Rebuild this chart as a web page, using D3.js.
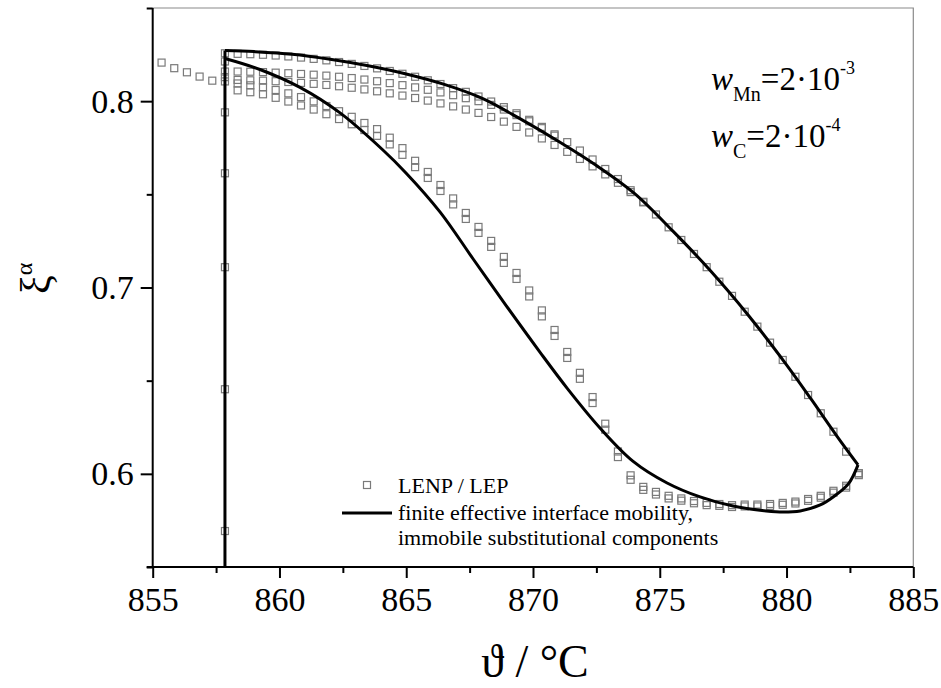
<!DOCTYPE html>
<html>
<head>
<meta charset="utf-8">
<script src="https://cdn.jsdelivr.net/npm/d3@7"></script>
<style>
  body { margin: 0; background: #fff; }
  text { font-family: "Liberation Serif", "DejaVu Serif", serif; fill: #000; }
</style>
</head>
<body>
<svg id="chart"></svg>
<script>
// temperatures of the LENP / LEP points (°C), one every 0.5 K
var gridT = [858.35, 858.85, 859.35, 859.85, 860.35, 860.85, 861.35, 861.85, 862.35, 862.85,
             863.35, 863.85, 864.35, 864.85, 865.35, 865.85, 866.35, 866.85, 867.35, 867.85,
             868.35, 868.85, 869.35, 869.85, 870.35, 870.85, 871.35, 871.85, 872.35, 872.85,
             873.35, 873.85, 874.35, 874.85, 875.35, 875.85, 876.35, 876.85, 877.35, 877.85,
             878.35, 878.85, 879.35, 879.85, 880.35, 880.85, 881.35, 881.85, 882.35, 882.85];

// ferrite fraction of the LENP / LEP rows (same order as gridT)
var rowA = [.8254, .8252, .8249, .8245, .8240, .8234, .8227, .8219, .8210, .8200,
            .8189, .8176, .8162, .8147, .8131, .8112, .8092, .8070, .8050, .8025,
            .7998, .7968, .7935, .7900, .7862, .7822, .7780, .7735, .7687, .7636,
            .7582, .7522, .7460, .7392, .7323, .7255, .7180, .7109, .7031, .6955,
            .6870, .6790, .6704, .6611, .6521, .6423, .6325, .6226, .6119, .6003];
var rowB = [.8159, .8158, .8156, .8153, .8150, .8146, .8142, .8137, .8131, .8124,
            .8116, .8107, .8097, .8086, .8074, .8061, .8047, .8032, .8016, .8000,
            .7980, .7955, .7925, .7892, .7855, .7815];
var rowC = [.8114, .8112, .8110, .8107, .8103, .8098, .8093, .8087, .8080, .8072,
            .8063, .8053, .8042, .8030, .8017, .8003, .7988, .7972, .7955, .7937,
            .7915, .7890, .7862, .7832, .7800, .7765, .7728, .7690, .7650, .7607,
            .7562, .7512, .7457];
var rowD1 = [.8095, .8085, .8075, .8060, .8042, .8022, .7999, .7974, .7946, .7916,
             .7883, .7850, .7804, .7748, .7680, .7620, .7550, .7478, .7400, .7325,
             .7250, .7164, .7078, .6984, .6877, .6772, .6654, .6542, .6412, .6269,
             .6120, .5992, .5930, .5903, .5882, .5868, .5854, .5844, .5838, .5832,
             .5835, .5835, .5838, .5844, .5851, .5865, .5882, .5909, .5936, .6003];
var rowD2 = [.8058, .8048, .8037, .8018, .7998, .7977, .7955, .7930, .7904, .7876,
             .7845, .7814, .7768, .7712, .7646, .7588, .7518, .7446, .7368, .7293,
             .7218, .7132, .7046, .6952, .6845, .6740, .6622, .6510, .6380, .6237,
             .6090, .5968, .5914, .5889, .5868, .5856, .5842, .5832, .5828, .5822,
             .5825, .5825, .5828, .5834, .5841, .5855, .5872, .5899, .5926, .5993];

// points below the transformation start
var leftT  = [855.35, 855.85, 856.35, 856.85, 857.35];
var leftXi = [.8207, .8177, .8155, .8132, .8110];
// isothermal points at the start temperature
var holdT  = 857.85;
var holdXi = [.8257, .8213, .8159, .8129, .8106, .7940, .7613, .7109, .6454, .5693];

// model: finite effective interface mobility
var modelStartT = 857.85;
var upperT  = [857.85, 859.0, 860.5, 862.0, 863.5, 865.0, 866.5, 868.0, 869.5, 871.0,
               872.5, 874.0, 875.5, 877.0, 878.5, 880.0, 881.0, 882.0, 882.82];
var upperXi = [.8272, .8266, .8252, .8225, .8190, .8146, .8090, .8015, .7905, .7785,
               .7655, .7505, .7305, .7090, .6850, .6585, .6395, .6200, .6048];
var lowerT  = [882.82, 882.44, 881.84, 881.33, 880.54, 879.87, 879.20, 877.89, 876.59, 875.29,
               873.95, 872.65, 871.35, 870.28, 868.94, 867.64, 866.33, 864.99, 864.08, 862.39,
               860.81, 859.23, 857.85];
var lowerXi = [.6048, .5946, .5876, .5833, .5801, .5795, .5801, .5827, .5876, .5951,
               .6067, .6245, .6459, .6652, .6903, .7153, .7406, .7615, .7738, .7937,
               .8074, .8170, .8229];

var xMajor = [855, 860, 865, 870, 875, 880, 885];
var xMinor = [857.5, 862.5, 867.5, 872.5, 877.5, 882.5];
var yMajor = [0.6, 0.7, 0.8];
var yMinor = [0.55, 0.65, 0.75, 0.85];

var width = 941, height = 688;
var svg = d3.select("#chart").attr("width", width).attr("height", height);
svg.append("rect").attr("width", width).attr("height", height).attr("fill", "#fff");

var x = d3.scaleLinear().domain([855, 885]).range([152.7, 913.3]);
var y = d3.scaleLinear().domain([0.55, 0.85]).range([567, 8]);

// grey frame top / right
svg.append("path")
    .attr("d", "M" + x(855) + "," + y(0.85) + "H" + x(885) + "V" + y(0.55))
    .attr("fill", "none").attr("stroke", "#8a8a8a").attr("stroke-width", 1.2);

function styleAxis(g) {
    g.select(".domain").remove();
    g.attr("font-family", "Liberation Serif");
    g.selectAll(".tick line").attr("stroke", "#000").attr("stroke-width", 2);
    g.selectAll(".tick text").attr("font-size", 34).attr("fill", "#000");
}

svg.append("g").attr("transform", "translate(0," + y(0.55) + ")")
    .call(d3.axisBottom(x).tickValues(xMajor).tickSize(11).tickPadding(9).tickFormat(d3.format("d")))
    .call(styleAxis);
svg.append("g").attr("transform", "translate(0," + y(0.55) + ")")
    .call(d3.axisBottom(x).tickValues(xMinor).tickSize(6).tickFormat(""))
    .call(styleAxis);
svg.append("g").attr("transform", "translate(" + x(855) + ",0)")
    .call(d3.axisLeft(y).tickValues(yMajor).tickSize(12).tickPadding(7).tickFormat(d3.format(".1f")))
    .call(styleAxis);
svg.append("g").attr("transform", "translate(" + x(855) + ",0)")
    .call(d3.axisLeft(y).tickValues(yMinor).tickSize(6).tickFormat(""))
    .call(styleAxis);

// axis lines
svg.append("line").attr("x1", x(855) - 6).attr("x2", x(885)).attr("y1", y(0.55)).attr("y2", y(0.55))
    .attr("stroke", "#000").attr("stroke-width", 2);
svg.append("line").attr("x1", x(855)).attr("x2", x(855)).attr("y1", y(0.55)).attr("y2", y(0.85))
    .attr("stroke", "#000").attr("stroke-width", 2);

// LENP / LEP squares
var pts = [];
[rowA, rowB, rowC, rowD1, rowD2].forEach(function(row) {
    row.forEach(function(v, i) { pts.push([gridT[i], v]); });
});
leftT.forEach(function(t, i) { pts.push([t, leftXi[i]]); });
holdXi.forEach(function(v) { pts.push([holdT, v]); });

var sq = 7;
svg.append("g").selectAll("rect").data(pts).enter().append("rect")
    .attr("x", function(d) { return x(d[0]) - sq / 2; })
    .attr("y", function(d) { return y(d[1]) - sq / 2; })
    .attr("width", sq).attr("height", sq)
    .attr("fill", "none").attr("stroke", "#7a7a7a").attr("stroke-width", 1.2);

// model curve
var line = d3.line().x(function(d) { return x(d[0]); }).y(function(d) { return y(d[1]); });
var curved = d3.line().x(function(d) { return x(d[0]); }).y(function(d) { return y(d[1]); })
    .curve(d3.curveCatmullRom.alpha(0.5));
var mg = svg.append("g").attr("fill", "none").attr("stroke", "#000").attr("stroke-width", 3)
    .attr("stroke-linejoin", "round");
mg.append("path").attr("d", line([[modelStartT, 0.55], [modelStartT, upperXi[0]]]));
mg.append("path").attr("d", curved(upperT.map(function(t, i) { return [t, upperXi[i]]; })));
mg.append("path").attr("d", curved(lowerT.map(function(t, i) { return [t, lowerXi[i]]; })));

// legend
var lg = svg.append("g");
lg.append("rect").attr("x", 363.5).attr("y", 481.5).attr("width", sq).attr("height", sq)
    .attr("fill", "none").attr("stroke", "#7a7a7a").attr("stroke-width", 1.2);
lg.append("text").attr("x", 398).attr("y", 493).style("font-size", "22px").text("LENP / LEP");
lg.append("line").attr("x1", 342).attr("x2", 392).attr("y1", 513).attr("y2", 513)
    .attr("stroke", "#000").attr("stroke-width", 3);
lg.append("text").attr("x", 398).attr("y", 520).style("font-size", "22px").text("finite effective interface mobility,");
lg.append("text").attr("x", 398).attr("y", 545).style("font-size", "22px").text("immobile substitutional components");

// composition note
function note(yb, sub, exp) {
    var t = svg.append("text").attr("x", 711).attr("y", yb).style("font-size", "33px");
    t.append("tspan").style("font-style", "italic").text("w");
    t.append("tspan").style("font-size", "20px").attr("dy", 11).text(sub);
    t.append("tspan").attr("dy", -11).text("=2·10");
    t.append("tspan").style("font-size", "18px").attr("dy", -16).text(exp);
}
note(90, "Mn", "-3");
note(147, "C", "-4");

// axis titles
svg.append("text").attr("x", 535).attr("y", 677).attr("text-anchor", "middle")
    .style("font-size", "46px").text("ϑ / °C");
var yt = svg.append("text").attr("transform", "translate(50,294) rotate(-90)")
    .style("font-size", "42px");
yt.append("tspan").text("ξ");
yt.append("tspan").style("font-size", "24px").attr("dy", -18).text("α");
</script>
</body>
</html>
